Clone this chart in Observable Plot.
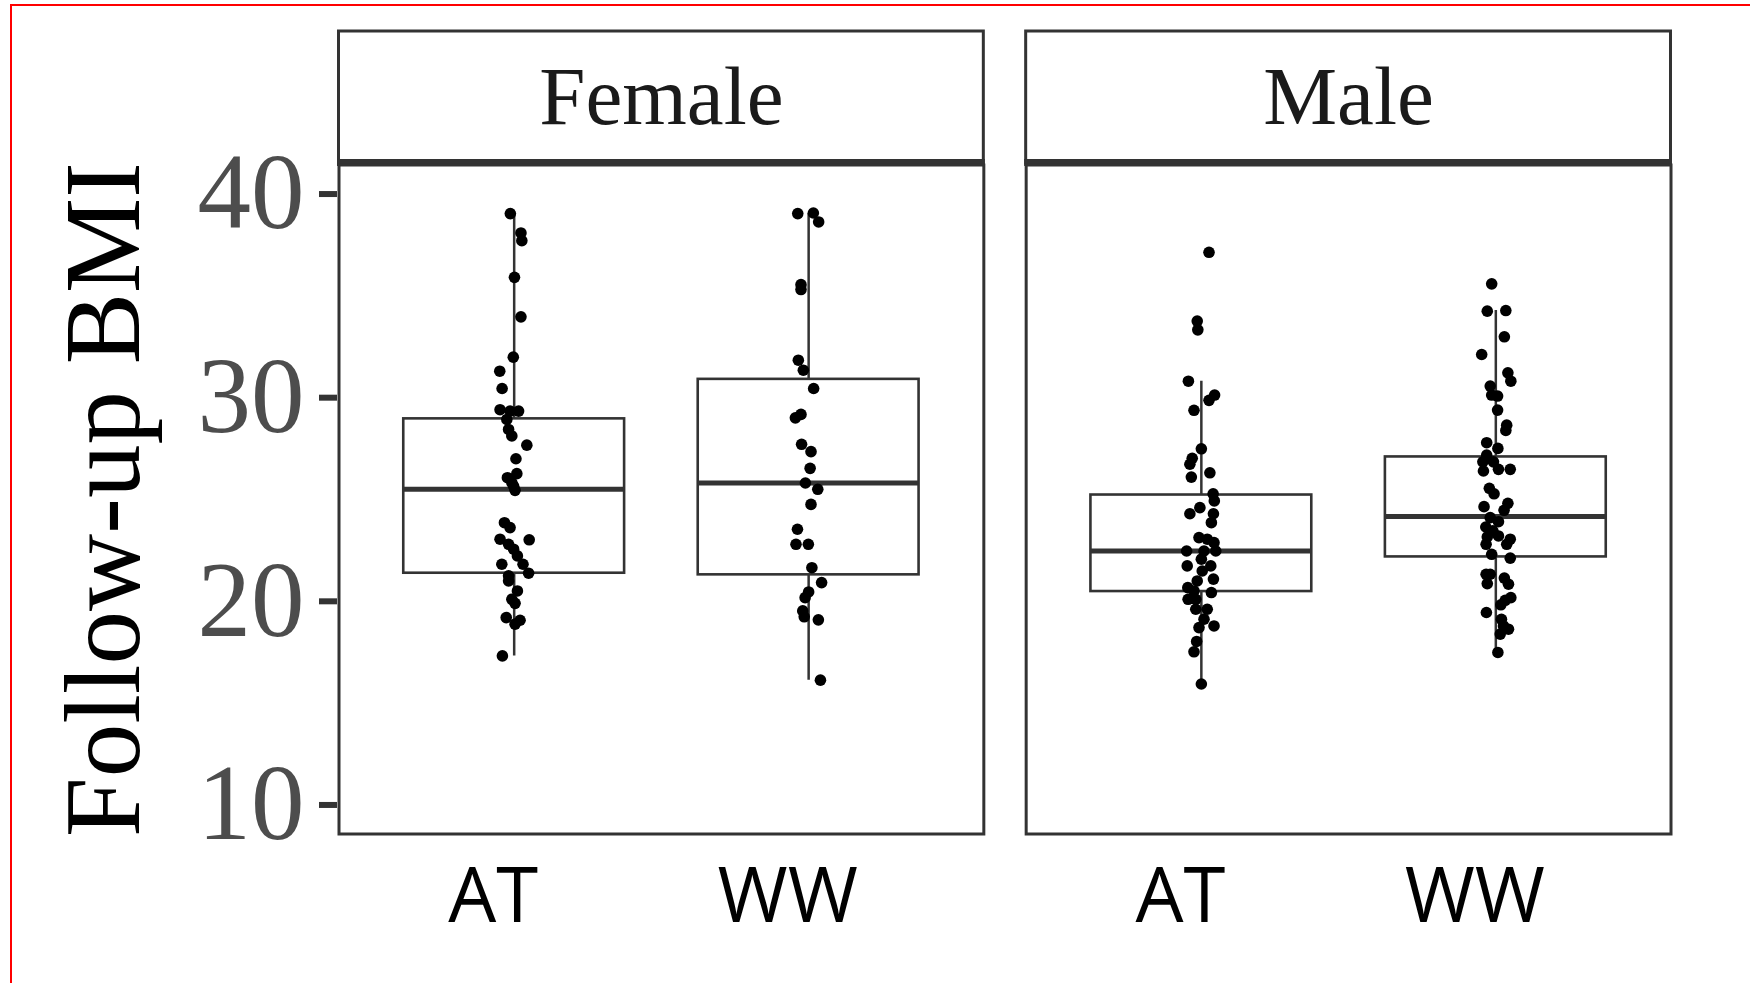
<!DOCTYPE html>
<html><head><meta charset="utf-8">
<script src="https://cdn.jsdelivr.net/npm/d3@7"></script>
<script src="https://cdn.jsdelivr.net/npm/@observablehq/plot@0.6"></script>
<style>
html,body{margin:0;padding:0;background:#fff;}
#wrap{position:relative;width:1750px;height:983px;overflow:hidden;}
#redframe{position:absolute;left:10px;top:4px;width:1800px;height:1100px;border-left:2px solid #f00;border-top:2px solid #f00;pointer-events:none;}
</style></head>
<body><div id="wrap"><div id="chart"></div><div id="redframe"></div></div>
<script>
// ---- data ----
const sexes = ["Female", "Male"];
const groups = ["AT", "WW"];
const yTicks = [10, 20, 30, 40];
const yTitle = "Follow-up BMI";

const femaleAT = [39.04,38.09,37.71,35.91,33.97,31.99,31.30,30.45,29.41,29.34,29.34,28.93,28.44,28.12,27.67,27.00,26.27,26.07,25.83,25.66,25.45,23.86,23.62,23.05,23.02,22.80,22.56,22.23,21.82,21.82,21.38,21.25,21.00,20.51,20.10,19.90,19.20,19.07,18.88,17.32];
const femaleATJitter = [-0.013,0.023,0.026,0.001,0.023,-0.003,-0.049,-0.041,-0.048,-0.014,0.015,-0.025,-0.019,-0.008,0.043,0.006,0.009,-0.023,-0.008,-0.002,0.003,-0.033,-0.014,-0.048,0.051,-0.019,-0.002,0.011,-0.042,0.030,0.049,-0.019,-0.019,0.011,-0.008,0.003,-0.027,0.020,0.003,-0.040];

const femaleWW = [39.04,39.07,38.63,35.55,35.31,31.84,31.35,30.45,29.18,29.01,27.71,27.35,26.53,25.81,25.50,24.76,23.54,22.80,22.80,21.65,20.92,20.46,20.18,19.53,19.24,19.09,16.13];
const femaleWWJitter = [-0.037,0.016,0.034,-0.026,-0.026,-0.035,-0.018,0.017,-0.026,-0.045,-0.024,0.008,0.005,-0.011,0.031,0.008,-0.038,-0.043,-0.001,0.011,0.044,0.000,-0.012,-0.020,-0.015,0.033,0.040];

const maleAT = [37.14,33.76,33.33,30.81,30.13,29.87,29.38,27.49,27.02,26.73,26.31,26.10,25.28,24.93,24.60,24.30,24.30,23.86,23.13,23.05,22.88,22.47,22.47,22.47,22.07,21.74,21.74,21.49,21.09,21.00,20.67,20.51,20.43,20.10,20.10,19.61,19.61,19.12,18.71,18.79,18.03,17.52,15.94];
const maleATJitter = [0.026,-0.014,-0.012,-0.044,0.045,0.026,-0.025,0.000,-0.031,-0.039,0.029,-0.034,0.040,0.044,-0.005,-0.039,0.041,0.034,-0.008,0.020,0.043,-0.050,0.009,0.049,0.000,-0.048,0.032,0.003,0.041,-0.014,-0.046,-0.025,0.034,-0.045,-0.019,-0.019,0.020,0.009,-0.008,0.043,-0.016,-0.025,0.000];

const maleWW = [35.59,34.25,34.28,32.99,32.12,31.22,30.81,30.57,30.13,30.08,29.39,28.65,28.39,27.79,27.51,27.18,26.85,26.85,26.40,26.48,26.48,25.55,25.28,24.65,24.81,24.47,24.11,23.91,23.65,23.46,23.21,23.16,23.05,22.80,22.80,22.31,22.12,21.33,21.33,21.14,20.87,20.84,20.18,20.05,19.83,19.45,19.12,18.79,18.63,18.39,17.49];
const maleWWJitter = [-0.014,-0.029,0.034,0.029,-0.048,0.041,0.051,-0.019,-0.014,0.006,0.006,0.037,0.034,-0.031,0.007,-0.031,-0.044,-0.008,-0.042,0.009,0.049,-0.022,-0.006,-0.040,0.041,0.028,-0.019,0.009,-0.034,-0.010,0.009,-0.029,0.049,0.037,-0.033,-0.014,0.049,-0.033,-0.019,0.029,-0.029,0.043,0.051,0.032,0.017,-0.032,0.019,0.026,0.043,0.015,0.007];

// box statistics (Female AT, Female WW, Male AT, Male WW)
const boxSex    = ["Female", "Female", "Male", "Male"];
const boxGroup  = ["AT", "WW", "AT", "WW"];
const whiskerLo = [17.32, 16.13, 15.94, 17.49];
const q1        = [21.38, 21.30, 20.48, 22.18];
const median    = [25.50, 25.81, 22.47, 24.16];
const q3        = [28.96, 30.90, 25.22, 27.09];
const whiskerHi = [39.04, 39.04, 30.81, 34.28];

// ---- build tables ----
const series = [
  ["Female", "AT", femaleAT, femaleATJitter],
  ["Female", "WW", femaleWW, femaleWWJitter],
  ["Male", "AT", maleAT, maleATJitter],
  ["Male", "WW", maleWW, maleWWJitter]
];
const points = series.flatMap(([sex, group, vals, jit]) =>
  vals.map((v, i) => ({sex, group, pos: groups.indexOf(group) + 1, jit: jit[i], v})));
const boxes = boxSex.map((sex, i) => ({
  sex, group: boxGroup[i], pos: groups.indexOf(boxGroup[i]) + 1,
  lo: whiskerLo[i], q1: q1[i], med: median[i], q3: q3[i], hi: whiskerHi[i]
}));

const boxHalf = 0.375;
const ink = "#333333";
const serif = "'Liberation Serif', 'Times New Roman', serif";
const sans = "'Open Sans', 'Noto Sans', sans-serif";
const stripHeight = 132;

function strips(index, scales, values, dims) {
  const [x0, x1] = scales.x.range();
  const g = d3.create("svg:g");
  const top = dims.marginTop - stripHeight;
  g.append("rect")
    .attr("x", x0 + 1.5).attr("width", x1 - x0 - 3)
    .attr("y", top).attr("height", stripHeight)
    .attr("fill", "white").attr("stroke", ink).attr("stroke-width", 3);
  // heavy rule separating the strip from the panel
  g.append("rect")
    .attr("x", x0).attr("width", x1 - x0)
    .attr("y", dims.marginTop - 4).attr("height", 7)
    .attr("fill", ink);
  return g.node();
}

const chart = Plot.plot({
  width: 1750,
  height: 983,
  marginLeft: 337,
  marginRight: 78,
  marginTop: 163,
  marginBottom: 148,
  style: {background: "transparent", overflow: "visible"},
  fx: {domain: sexes, paddingInner: 39.3 / 686.3, paddingOuter: 0, round: false},
  x: {domain: [0.4, 2.6]},
  y: {domain: [8.5, 41.5]},
  marks: [
    strips,
    Plot.axisFx({anchor: "top", label: null, tickSize: 0, tickPadding: 39.5, fontSize: 83,
      fontFamily: serif, fill: "#1a1a1a"}),
    Plot.axisY(yTicks, {label: null, tickSize: 18, tickPadding: 15, fontSize: 107,
      fontFamily: serif, fill: "#4d4d4d", stroke: ink, strokeWidth: 6}),
    Plot.axisY([], {label: yTitle, labelAnchor: "center", labelArrow: "none", labelOffset: 274,
      tickSize: 0, fontSize: 107, fontFamily: serif, fill: "black"}),
    Plot.axisX([1, 2], {label: null, tickSize: 0, tickPadding: 33, fontSize: 76, dx: -21,
      fontFamily: sans, fill: "black", tickFormat: d => groups[d - 1]}),
    Plot.ruleX(boxes, {fx: "sex", x: "pos", y1: "lo", y2: "hi", stroke: ink, strokeWidth: 2.5}),
    Plot.rect(boxes, {fx: "sex", x1: d => d.pos - boxHalf, x2: d => d.pos + boxHalf, y1: "q1", y2: "q3",
      fill: "white", stroke: ink, strokeWidth: 2.6}),
    Plot.ruleY(boxes, {fx: "sex", y: "med", x1: d => d.pos - boxHalf, x2: d => d.pos + boxHalf,
      stroke: ink, strokeWidth: 5}),
    Plot.dot(points, {fx: "sex", x: d => d.pos + d.jit, y: "v", r: 5.8, fill: "black", stroke: "none"}),
    Plot.frame({stroke: ink, strokeWidth: 3, inset: 1.5})
  ]
});
document.getElementById("chart").appendChild(chart);
</script>
</body></html>
